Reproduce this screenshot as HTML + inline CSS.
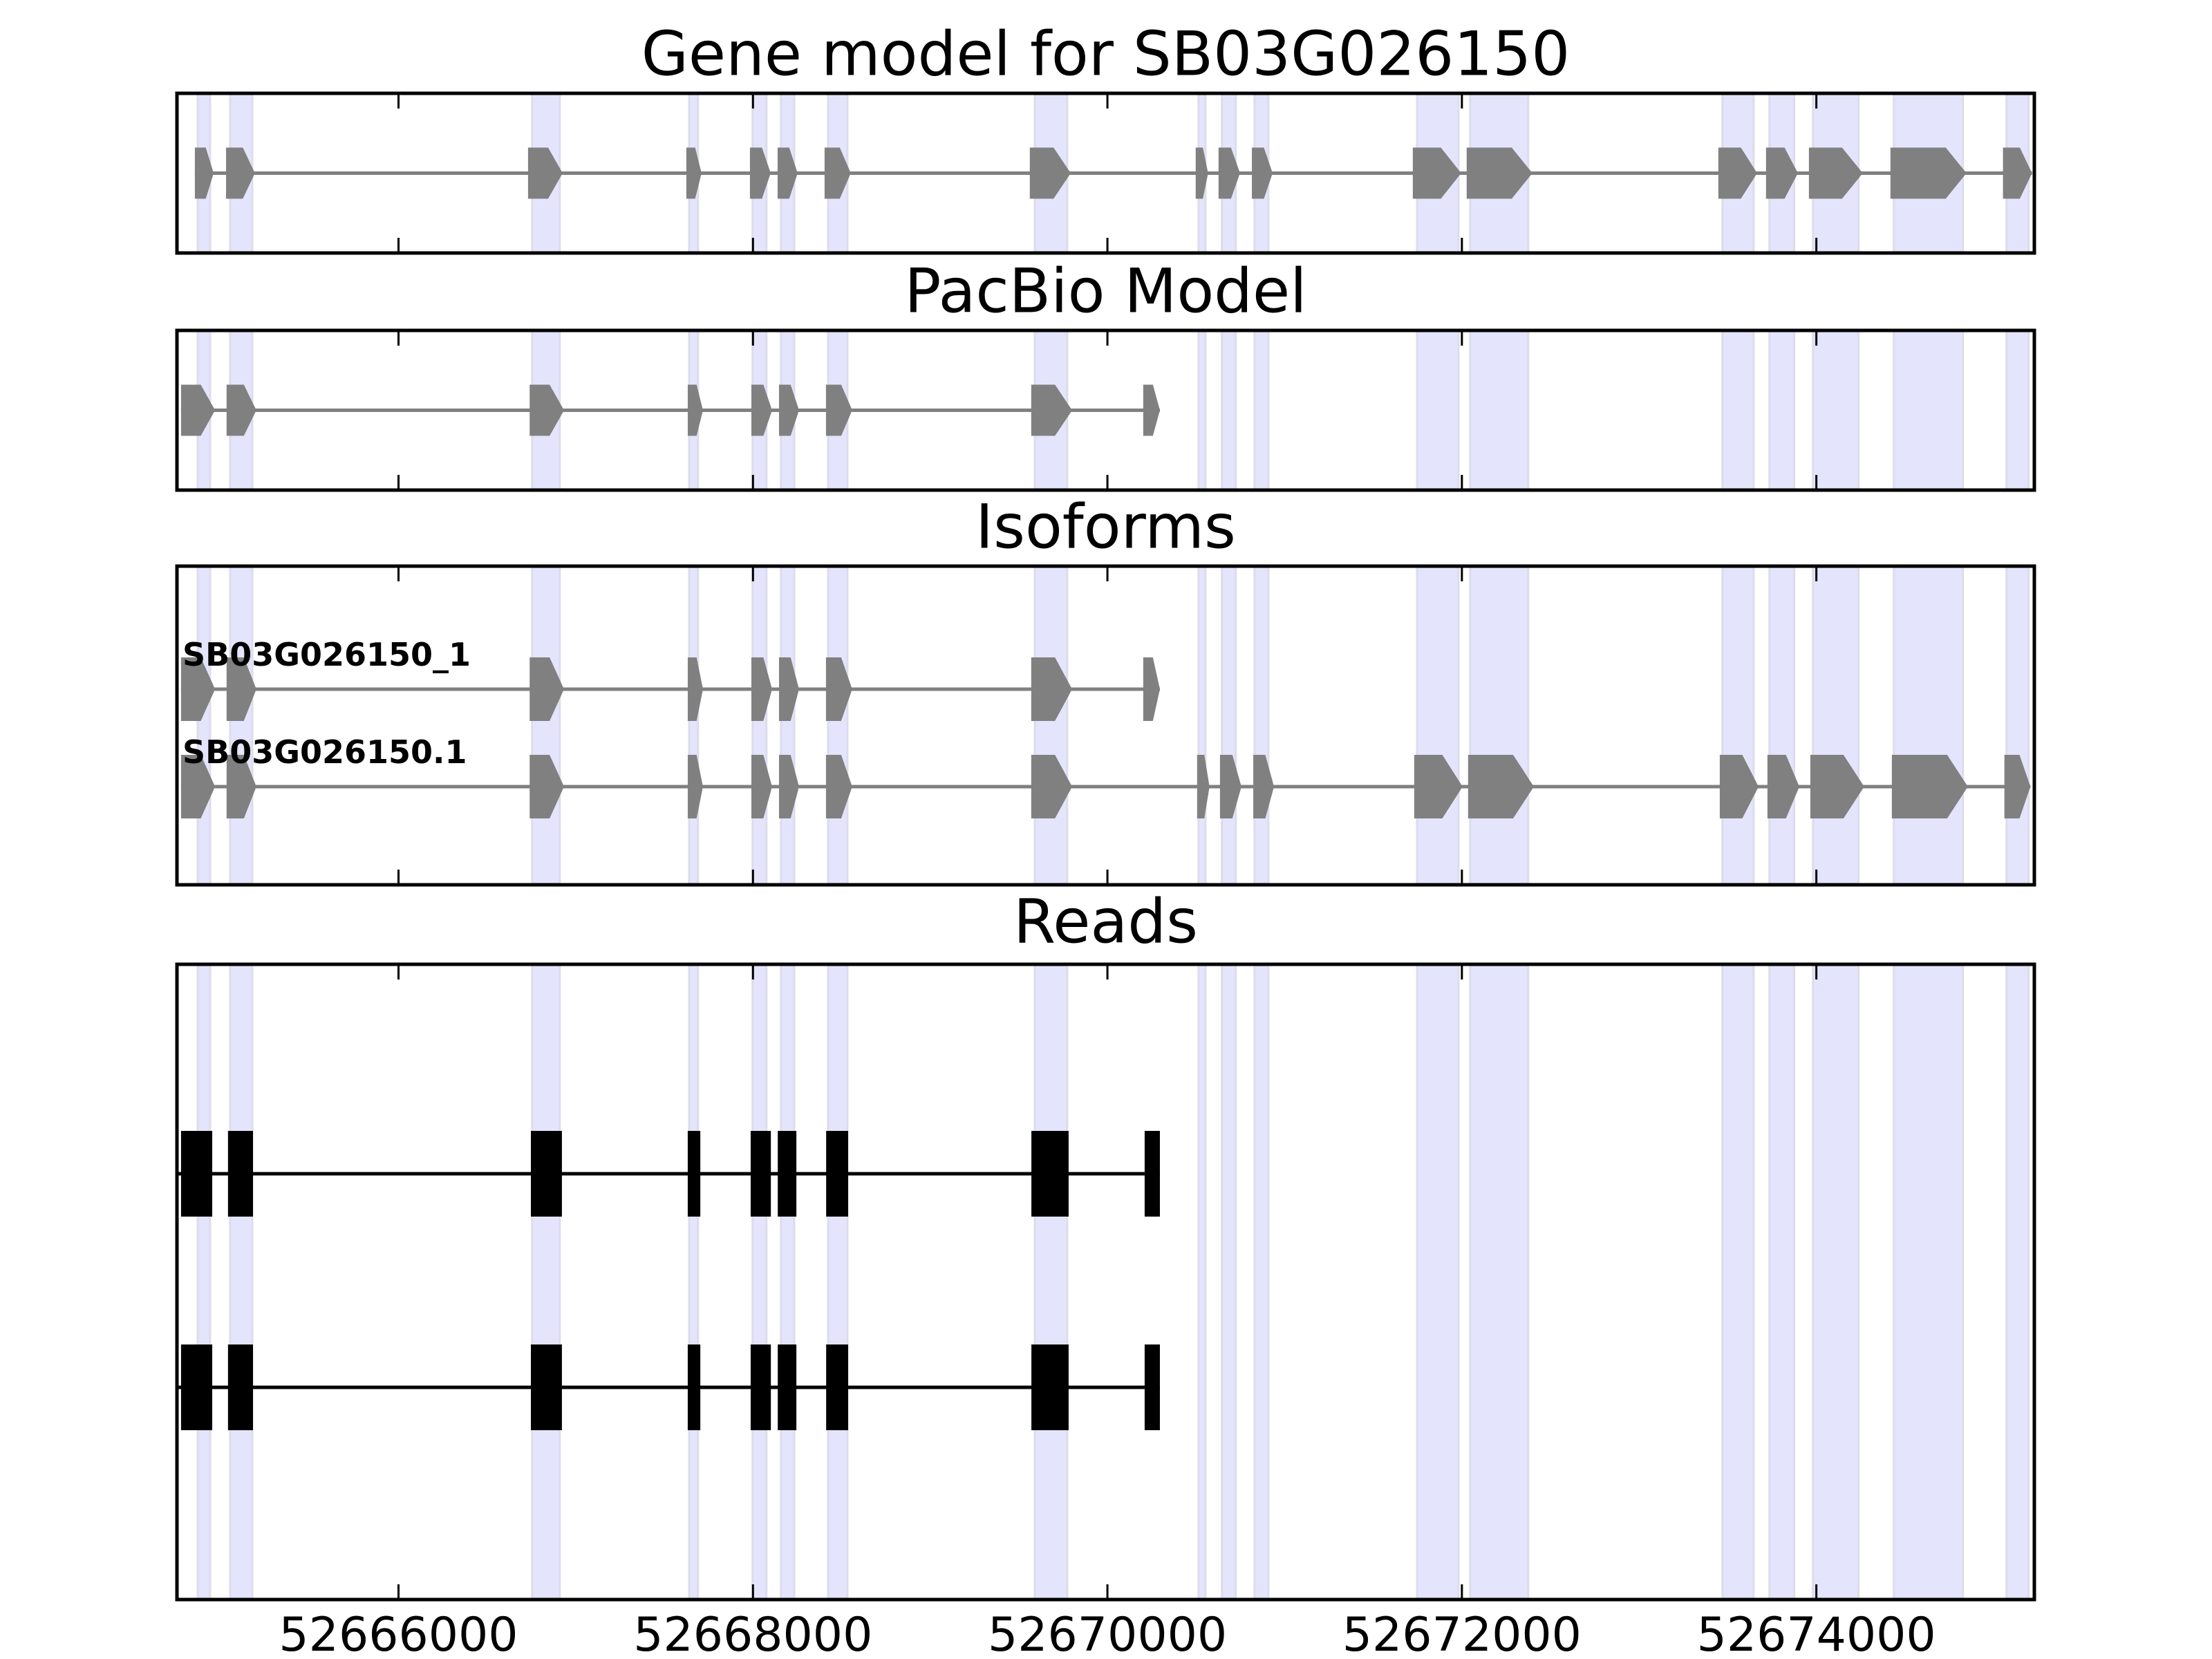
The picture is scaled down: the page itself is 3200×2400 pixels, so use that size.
<!DOCTYPE html>
<html><head><meta charset="utf-8">
<style>
html,body{margin:0;padding:0;background:#fff;}
svg{display:block;}
text{font-family:"DejaVu Sans","Liberation Sans",sans-serif;}
</style></head>
<body>
<svg id="chart" width="3200" height="2400" viewBox="0 0 3200 2400" xmlns="http://www.w3.org/2000/svg">
<rect width="3200" height="2400" fill="#fff"/>
</svg>
<script>
// ---- data ----
const xTicks = [52666000, 52668000, 52670000, 52672000, 52674000];
const xTickLabels = ["52666000", "52668000", "52670000", "52672000", "52674000"];
const bandStarts = [52664867,52665050,52666754,52667640,52667998,52668158,52668424,52669590,52670514,52670646,52670830,52671747,52672047,52673470,52673735,52673981,52674437,52675073];
const bandEnds   = [52664937,52665175,52666910,52667690,52668076,52668233,52668533,52669773,52670553,52670724,52670908,52671981,52672374,52673646,52673875,52674238,52674827,52675198];
const geneStarts = [52664851,52665027,52666731,52667624,52667983,52668139,52668404,52669562,52670498,52670627,52670815,52671723,52672027,52673447,52673716,52673958,52674418,52675053];
const geneEnds   = [52664957,52665190,52666926,52667710,52668100,52668252,52668552,52669793,52670568,52670748,52670932,52671996,52672398,52673666,52673896,52674262,52674847,52675217];
const pacbioStarts = [52664773,52665030,52666740,52667632,52667991,52668147,52668412,52669570,52670202];
const pacbioEnds   = [52664965,52665198,52666934,52667718,52668108,52668260,52668560,52669801,52670296];
const iso1Starts = [52664773,52665030,52666740,52667632,52667991,52668147,52668412,52669570,52670202];
const iso1Ends   = [52664965,52665198,52666934,52667718,52668108,52668260,52668560,52669801,52670296];
const iso2Starts = [52664773,52665030,52666740,52667632,52667991,52668147,52668412,52669570,52670506,52670635,52670823,52671731,52672035,52673455,52673724,52673966,52674426,52675061];
const iso2Ends   = [52664965,52665198,52666934,52667718,52668108,52668260,52668560,52669801,52670576,52670756,52670940,52672004,52672406,52673674,52673904,52674270,52674855,52675208];
const isoNames = ["SB03G026150_1", "SB03G026150.1"];
const readStarts = [52664773,52665038,52666747,52667632,52667987,52668140,52668413,52669571,52670210];
const readEnds   = [52664949,52665179,52666922,52667703,52668101,52668245,52668537,52669781,52670296];
const panelTitles = ["Gene model for SB03G026150", "PacBio Model", "Isoforms", "Reads"];

// ---- layout ----
const NS = "http://www.w3.org/2000/svg";
const svg = document.getElementById("chart");
const X0 = 256, X1 = 2943;
const domMin = 52664750, domMax = 52675230;
function xs(bp){ return X0 + (bp - domMin) / (domMax - domMin) * (X1 - X0); }
const panels = [
  {top:135, bottom:366, titleY:78},
  {top:478, bottom:709, titleY:421},
  {top:819, bottom:1280, titleY:762},
  {top:1395, bottom:2314, titleY:1333}
];
function el(tag, attrs, parent){
  const e = document.createElementNS(NS, tag);
  for (const k in attrs) e.setAttribute(k, attrs[k]);
  (parent || svg).appendChild(e);
  return e;
}
function arrowExon(g, s, e, cy, h){
  const a = xs(s), b = xs(e), w = b - a;
  const t = Math.min(30, 0.42 * w);
  const p = el("polygon", {points:`${a},${cy-h} ${b-t},${cy-h} ${b},${cy} ${b-t},${cy+h} ${a},${cy+h}`, fill:"#808080"}, g);
  
  
}
function model(g, starts, ends, cy, h, name){
  const ln = el("line", {x1:xs(starts[0]), x2:xs(ends[ends.length-1]), y1:cy, y2:cy, stroke:"#808080", "stroke-width":5}, g);
  
  
  for (let i = 0; i < starts.length; i++) arrowExon(g, starts[i], ends[i], cy, h);
}

panels.forEach((p, pi) => {
  const g = el("g", {});
  
  
  for (let i = 0; i < bandStarts.length; i++) {
    const r = el("rect", {x:xs(bandStarts[i]), y:p.top, width:xs(bandEnds[i]) - xs(bandStarts[i]), height:p.bottom - p.top, fill:"#e4e4fc", stroke:"#dcdcec", "stroke-width":3}, g);
    
    
  }
  const t = el("text", {x:(X0+X1)/2, y:p.titleY, "font-size":88, "text-anchor":"middle", "dominant-baseline":"central", fill:"#000"}, g);
  t.textContent = panelTitles[pi];
  
  

  if (pi === 0) model(g, geneStarts, geneEnds, (p.top+p.bottom)/2, 37, 'gene');
  if (pi === 1) model(g, pacbioStarts, pacbioEnds, (p.top+p.bottom)/2, 37, 'pacbio');
  if (pi === 2) {
    const rows = [997, 1138];
    const sets = [[iso1Starts, iso1Ends], [iso2Starts, iso2Ends]];
    rows.forEach((cy, ri) => {
      model(g, sets[ri][0], sets[ri][1], cy, 46, 'isoform');
      const lb = el("text", {x:264, y:cy - 34, "font-size":46, "font-weight":"bold", fill:"#000"}, g);
      lb.textContent = isoNames[ri];
      
      
    });
  }
  if (pi === 3) {
    [1698, 2007].forEach(cy => {
      const ln = el("line", {x1:X0, x2:xs(readEnds[readEnds.length-1]), y1:cy, y2:cy, stroke:"#000", "stroke-width":5}, g);
      
      
      for (let i = 0; i < readStarts.length; i++) {
        const r = el("rect", {x:xs(readStarts[i]), y:cy-62, width:xs(readEnds[i]) - xs(readStarts[i]), height:124, fill:"#000"}, g);
        
        
      }
    });
  }
  xTicks.forEach((v, i) => {
    const x = xs(v);
    const t1 = el("line", {x1:x, x2:x, y1:p.top, y2:p.top+22, stroke:"#000", "stroke-width":3}, g);
    
    
    const t2 = el("line", {x1:x, x2:x, y1:p.bottom, y2:p.bottom-22, stroke:"#000", "stroke-width":3}, g);
    
    
    if (pi === 3) {
      const lb = el("text", {x:x, y:2388, "font-size":68, "text-anchor":"middle", fill:"#000"}, g);
      lb.textContent = xTickLabels[i];
      
      
    }
  });
  const fr = el("rect", {x:X0, y:p.top, width:X1-X0, height:p.bottom-p.top, fill:"none", stroke:"#000", "stroke-width":5}, g);
  
  
});
</script>
</body></html>
